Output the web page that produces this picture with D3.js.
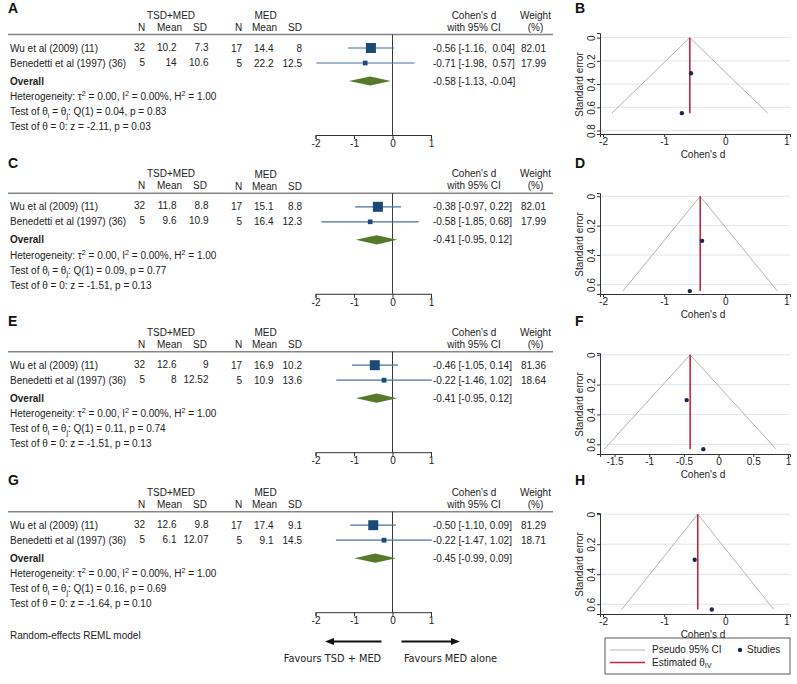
<!DOCTYPE html>
<html>
<head>
<meta charset="utf-8">
<script src="https://cdn.jsdelivr.net/npm/d3@7"></script>
<style>
  html, body { margin: 0; padding: 0; background: #fff; }
  svg text { white-space: pre; }
</style>
</head>
<body>
<svg id="chart" width="797" height="684"></svg>
<script>
// ---------------- DATA ----------------
const forestLetters = ["A", "C", "E", "G"];
const funnelLetters = ["B", "D", "F", "H"];
const studies = ["Wu et al (2009) (11)", "Benedetti et al (1997) (36)"];
const tsdN = [32, 5];
const medN = [17, 5];
const tsdMean = [[10.2, 14], [11.8, 9.6], [12.6, 8], [12.6, 6.1]];
const tsdSD = [[7.3, 10.6], [8.8, 10.9], [9, 12.52], [9.8, 12.07]];
const medMean = [[14.4, 22.2], [15.1, 16.4], [16.9, 10.9], [17.4, 9.1]];
const medSD = [[8, 12.5], [8.8, 12.3], [10.2, 13.6], [9.1, 14.5]];
const effect = [[-0.56, -0.71], [-0.38, -0.58], [-0.46, -0.22], [-0.50, -0.22]];
const ciLow = [[-1.16, -1.98], [-0.97, -1.85], [-1.05, -1.46], [-1.10, -1.47]];
const ciHigh = [[0.04, 0.57], [0.22, 0.68], [0.14, 1.02], [0.09, 1.02]];
const weight = [[82.01, 17.99], [82.01, 17.99], [81.36, 18.64], [81.29, 18.71]];
const overall = [-0.58, -0.41, -0.41, -0.45];
const overallLow = [-1.13, -0.95, -0.95, -0.99];
const overallHigh = [-0.04, 0.12, 0.12, 0.09];
const qStat = ["0.04", "0.09", "0.11", "0.16"];
const qP = ["0.83", "0.77", "0.74", "0.69"];
const zStat = ["-2.11", "-1.51", "-1.51", "-1.64"];
const zP = ["0.03", "0.13", "0.13", "0.10"];
const forestTicks = [-2, -1, 0, 1];
const funnelXTicks = [[-2, -1, 0, 1], [-2, -1, 0, 1], [-1.5, -1, -0.5, 0, 0.5, 1], [-2, -1, 0, 1]];
const funnelXDomain = [[-2.05, 1.06], [-2.05, 1.06], [-1.71, 1.03], [-2.05, 1.06]];
const funnelYTicks = [[0, 0.2, 0.4, 0.6, 0.8], [0, 0.2, 0.4, 0.6], [0, 0.2, 0.4, 0.6], [0, 0.2, 0.4, 0.6]];
const funnelYDomain = [[-0.04, 0.83], [-0.022, 0.665], [-0.012, 0.665], [-0.008, 0.665]];
const legendLabels = ["Pseudo 95% CI", "Studies", "Estimated θ"];

// ---------------- STYLE ----------------
const FONT = "'Liberation Sans', Arial, sans-serif";
const FS = 10;
const navy = "#1c4a76";
const ciColor = "#45739e";
const green = "#56792c";
const redLine = "#c2283f";
const grayLine = "#b3b3b3";
const gridColor = "#dde7ee";

const svg = d3.select("#chart");
svg.append("rect").attr("width", 797).attr("height", 684).attr("fill", "#fff");

function txt(g, x, y, s, opts = {}) {
  return g.append("text")
    .attr("x", x).attr("y", y)
    .attr("dy", "0.35em")
    .attr("font-family", opts.family || FONT)
    .attr("font-size", opts.size || FS)
    .attr("font-weight", opts.weight || "normal")
    .attr("text-anchor", opts.anchor || "start")
    .attr("fill", opts.fill || "#222")
    .text(s);
}

// rich text: y is the visual centre line; baseline computed directly
function rich(g, x, y, parts, size = FS) {
  const t = g.append("text").attr("x", x).attr("y", y + size * 0.35)
    .attr("font-family", FONT).attr("font-size", size).attr("fill", "#222");
  let shift = 0;
  parts.forEach(([s, kind]) => {
    const target = kind === "sup" ? -4 : kind === "sub" ? 2.5 : 0;
    t.append("tspan").attr("dy", target - shift)
      .attr("font-size", kind === "n" ? size : size * 0.72).text(s);
    shift = target;
  });
  return t;
}

const fmt = v => String(v);
const f2 = v => v.toFixed(2);

// ---------------- FOREST PLOTS ----------------
const forestOffsets = [0, 158.8, 317.2, 477.2];
const letterBase = [12.5, 168, 326, 485];
const x = d3.scaleLinear().domain([-2, 1]).range([315.5, 431]);
const boxSide = d3.scaleSqrt().domain([0, 100]).range([0, 11.05]);

forestLetters.forEach((L, p) => {
  const off = forestOffsets[p];
  const g = svg.append("g").attr("transform", `translate(0,${off})`);
  svg.append("text").attr("x", 8).attr("y", letterBase[p]).attr("font-family", FONT)
    .attr("font-size", 14).attr("font-weight", "bold").attr("fill", "#111").text(L);

  // headers
  txt(g, 171, 15, "TSD+MED", { anchor: "middle" });
  txt(g, 141.5, 27, "N", { anchor: "middle" });
  txt(g, 169.5, 27, "Mean", { anchor: "middle" });
  txt(g, 200, 27, "SD", { anchor: "middle" });
  txt(g, 265.5, 15.5, "MED", { anchor: "middle" });
  txt(g, 238.5, 27.5, "N", { anchor: "middle" });
  txt(g, 264.5, 27.5, "Mean", { anchor: "middle" });
  txt(g, 295, 27.5, "SD", { anchor: "middle" });
  txt(g, 474, 15, "Cohen's d", { anchor: "middle" });
  txt(g, 474, 27, "with 95% CI", { anchor: "middle" });
  txt(g, 535.5, 15, "Weight", { anchor: "middle" });
  txt(g, 535.5, 27, "(%)", { anchor: "middle" });

  g.append("line").attr("x1", 8).attr("x2", 553).attr("y1", 34.5).attr("y2", 34.5)
    .attr("stroke", "#858585").attr("stroke-width", 1.4);

  const rowY = [48, 63];
  const anyNegUpper = ciHigh[p].some(v => v < 0) || overallHigh[p] < 0;
  const pad = v => (anyNegUpper && v >= 0 ? " " : "") + f2(v);

  studies.forEach((s, i) => {
    const y = rowY[i];
    txt(g, 10, y, s);
    txt(g, 145, y - 1, fmt(tsdN[i]), { anchor: "end" });
    txt(g, 176.5, y - 1, fmt(tsdMean[p][i]), { anchor: "end" });
    txt(g, 208.5, y - 1, fmt(tsdSD[p][i]), { anchor: "end" });
    txt(g, 242, y, fmt(medN[i]), { anchor: "end" });
    txt(g, 273.5, y, fmt(medMean[p][i]), { anchor: "end" });
    txt(g, 302, y, fmt(medSD[p][i]), { anchor: "end" });
    txt(g, 433, y, `${f2(effect[p][i])} [${f2(ciLow[p][i])}, ${pad(ciHigh[p][i])}]`);
    txt(g, 546, y, weight[p][i].toFixed(2), { anchor: "end" });
  });

  // zero line
  g.append("line").attr("x1", x(0)).attr("x2", x(0)).attr("y1", 34.5).attr("y2", 135)
    .attr("stroke", "#3a3a3a").attr("stroke-width", 1);

  // CI lines and boxes
  studies.forEach((s, i) => {
    const y = rowY[i];
    g.append("line").attr("x1", x(ciLow[p][i])).attr("x2", x(ciHigh[p][i]))
      .attr("y1", y).attr("y2", y).attr("stroke", ciColor).attr("stroke-width", 1.2);
    const side = boxSide(weight[p][i]);
    g.append("rect").attr("x", x(effect[p][i]) - side / 2).attr("y", y - side / 2)
      .attr("width", side).attr("height", side).attr("fill", navy);
  });

  // overall
  const oy = 81;
  txt(g, 10, oy, "Overall", { weight: "bold" });
  txt(g, 433, oy, `${f2(overall[p])} [${f2(overallLow[p])}, ${pad(overallHigh[p])}]`);
  const dh = 4.6;
  g.append("path")
    .attr("d", `M${x(overallLow[p])},${oy} L${x(overall[p])},${oy - dh} L${x(overallHigh[p])},${oy} L${x(overall[p])},${oy + dh} Z`)
    .attr("fill", green);

  rich(g, 10, 96.5, [["Heterogeneity: τ", "n"], ["2", "sup"], [" = 0.00, I", "n"], ["2", "sup"], [" = 0.00%, H", "n"], ["2", "sup"], [" = 1.00", "n"]]);
  rich(g, 10, 111.5, [["Test of θ", "n"], ["i", "sub"], [" = θ", "n"], ["j", "sub"], [`: Q(1) = ${qStat[p]}, p = ${qP[p]}`, "n"]]);
  txt(g, 10, 126.5, `Test of θ = 0: z = ${zStat[p]}, p = ${zP[p]}`);

  // axis
  const ax = g.append("g").attr("transform", "translate(0,135)")
    .call(d3.axisBottom(x).tickValues(forestTicks).tickSize(4).tickPadding(1).tickFormat(d => String(d)));
  ax.select(".domain").attr("stroke", "#333");
  ax.selectAll(".tick line").attr("stroke", "#333");
  ax.selectAll(".tick text").attr("font-family", FONT).attr("font-size", FS).attr("fill", "#222");
});

// footer of forest column
txt(svg, 10, 635.5, "Random-effects REML model");
const arrowY = 641.5;
function arrow(x1, x2) {
  const dir = Math.sign(x2 - x1);
  svg.append("line").attr("x1", x1).attr("x2", x2 - dir * 6).attr("y1", arrowY).attr("y2", arrowY)
    .attr("stroke", "#111").attr("stroke-width", 2);
  svg.append("path").attr("d", `M${x2},${arrowY} L${x2 - dir * 9},${arrowY - 3.5} L${x2 - dir * 9},${arrowY + 3.5} Z`)
    .attr("fill", "#111");
}
arrow(381.5, 325);
arrow(401.5, 460);
txt(svg, 332.5, 659, "Favours TSD + MED", { family: "'DejaVu Sans', Verdana, sans-serif", anchor: "middle", size: 9.8 });
txt(svg, 450.5, 659, "Favours MED alone", { family: "'DejaVu Sans', Verdana, sans-serif", anchor: "middle", size: 9.8 });

// ---------------- FUNNEL PLOTS ----------------
const funnelOffsets = [0, 160, 320, 480];
funnelLetters.forEach((L, p) => {
  const off = funnelOffsets[p];
  svg.append("text").attr("x", 575).attr("y", letterBase[p]).attr("font-family", FONT)
    .attr("font-size", 14).attr("font-weight", "bold").attr("fill", "#111").text(L);
  const g = svg.append("g").attr("transform", `translate(0,${off})`);
  const fx = d3.scaleLinear().domain(funnelXDomain[p]).range([600, 790]);
  const fy = d3.scaleLinear().domain(funnelYDomain[p]).range([33, 134]);

  // grid
  g.selectAll(".grid").data(funnelYTicks[p]).join("line")
    .attr("x1", 600).attr("x2", 790).attr("y1", d => fy(d)).attr("y2", d => fy(d))
    .attr("stroke", gridColor).attr("stroke-width", 1);

  const se = studies.map((s, i) => (ciHigh[p][i] - ciLow[p][i]) / 3.92);
  const seMax = d3.max(se);
  const th = overall[p];

  // pseudo CI
  g.append("path")
    .attr("d", d3.line()([[fx(th - 1.96 * seMax), fy(seMax)], [fx(th), fy(0)], [fx(th + 1.96 * seMax), fy(seMax)]]))
    .attr("fill", "none").attr("stroke", grayLine).attr("stroke-width", 1);
  // estimate line
  g.append("line").attr("x1", fx(th)).attr("x2", fx(th)).attr("y1", fy(0)).attr("y2", fy(seMax))
    .attr("stroke", redLine).attr("stroke-width", 1.6);
  // studies
  studies.forEach((s, i) => {
    g.append("circle").attr("cx", fx(effect[p][i])).attr("cy", fy(se[i])).attr("r", 2.2).attr("fill", "#1b2a4b");
  });

  // axes
  const ax = g.append("g").attr("transform", "translate(0,134)")
    .call(d3.axisBottom(fx).tickValues(funnelXTicks[p]).tickSize(3).tickPadding(1).tickFormat(d => String(d)));
  const ay = g.append("g").attr("transform", "translate(600,0)")
    .call(d3.axisLeft(fy).tickValues(funnelYTicks[p]).tickSize(3).tickPadding(2).tickFormat(d => String(d)));
  [ax, ay].forEach(a => {
    a.select(".domain").attr("stroke", "#333");
    a.selectAll(".tick line").attr("stroke", "#333");
    a.selectAll(".tick text").attr("font-family", FONT).attr("font-size", FS).attr("fill", "#222");
  });
  ay.selectAll(".tick text")
    .attr("transform", "rotate(-90,-5,0)")
    .attr("x", -5).attr("dy", "0").attr("text-anchor", "middle");

  txt(g, 703, 154, "Cohen's d", { anchor: "middle" });
  g.append("text").attr("transform", `translate(583,${(33 + 134) / 2 + 1}) rotate(-90)`)
    .attr("font-family", FONT).attr("font-size", FS).attr("text-anchor", "middle").attr("fill", "#222")
    .text("Standard error");
});

// legend
const lg = svg.append("g");
lg.append("rect").attr("x", 605).attr("y", 638).attr("width", 185).attr("height", 36)
  .attr("fill", "#fff").attr("stroke", "#333").attr("stroke-width", 0.8);
lg.append("line").attr("x1", 610).attr("x2", 645).attr("y1", 650).attr("y2", 650).attr("stroke", grayLine).attr("stroke-width", 1);
txt(lg, 652, 649.5, legendLabels[0]);
lg.append("circle").attr("cx", 740).attr("cy", 650).attr("r", 2.2).attr("fill", "#1b2a4b");
txt(lg, 747, 649.5, legendLabels[1]);
lg.append("line").attr("x1", 610).attr("x2", 645).attr("y1", 662.5).attr("y2", 662.5).attr("stroke", redLine).attr("stroke-width", 1.6);
rich(lg, 652, 662, [[legendLabels[2], "n"], ["IV", "sub"]]);
</script>
</body>
</html>
